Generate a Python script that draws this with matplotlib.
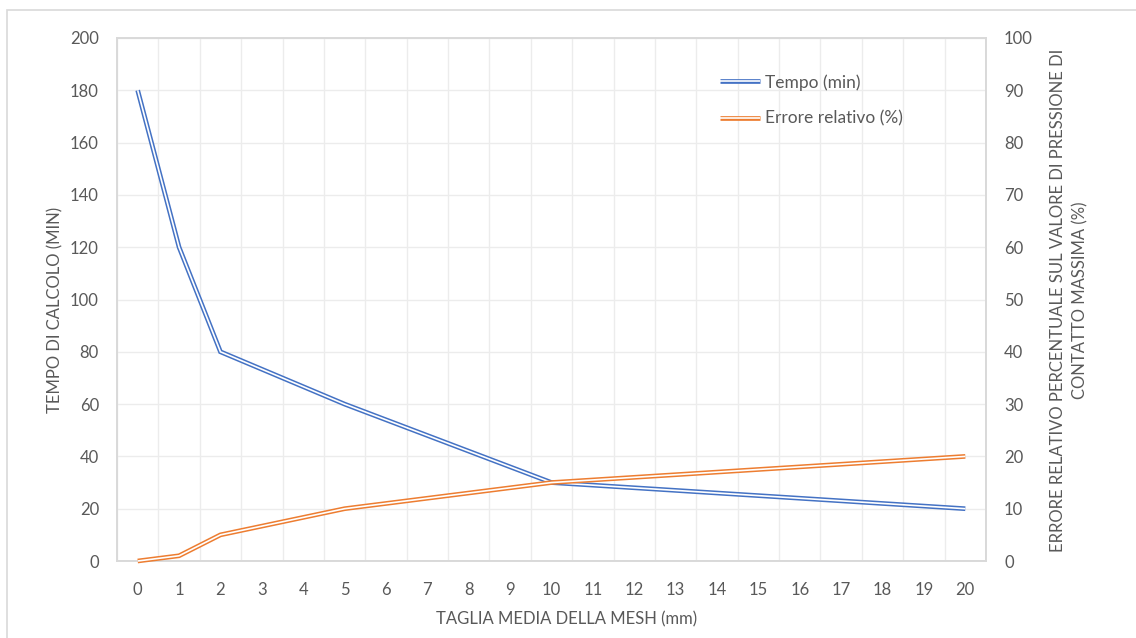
import matplotlib
matplotlib.use("Agg")
import matplotlib.pyplot as plt
from matplotlib.lines import Line2D
from matplotlib.patches import Rectangle
import numpy as np

# Data
mesh_size = [0, 1, 2, 5, 10, 20]
tempo_min = [180, 120, 80, 60, 30, 20]
errore_pct = [0, 1, 5, 10, 15, 20]
x_ticks = list(range(0, 21))
left_ticks = list(range(0, 201, 20))
right_ticks = list(range(0, 101, 10))

BLUE = "#4472C4"
ORANGE = "#ED7D31"
TXT = "#595959"
GRID = "#ECECEC"
SPINE = "#D9D9D9"

plt.rcParams['font.family'] = ['Lato', 'DejaVu Sans']
FS = 12
LFS = 12.5

fig = plt.figure(figsize=(11.36, 6.38), dpi=100)
ax = fig.add_axes([117/1136, 1-561/638, (986-117)/1136, (561-38)/638])
ax2 = ax.twinx()

# outer chart border (partly cropped)
fig.patches.append(Rectangle((7/1136, -0.1), 1.2, 1.1 - 10/638,
                             transform=fig.transFigure, fill=False,
                             edgecolor=SPINE, linewidth=1.2))

CW, WW = 3.4, 1.2

def double_line(a, x, y, color, z):
    a.plot(x, y, color=color, lw=CW, solid_capstyle='butt', solid_joinstyle='miter',
           zorder=z, clip_on=False)
    a.plot(x, y, color='white', lw=WW, solid_capstyle='butt', solid_joinstyle='miter',
           zorder=z + 0.1, clip_on=False)

double_line(ax, mesh_size, tempo_min, BLUE, 3)
double_line(ax2, mesh_size, errore_pct, ORANGE, 3)

ax.set_xlim(-0.5, 20.5)
ax.set_ylim(0, 200)
ax2.set_ylim(0, 100)
ax.set_xticks(x_ticks)
ax.set_xticklabels([str(t) for t in x_ticks])
ax.set_yticks(left_ticks)
ax2.set_yticks(right_ticks)

# gridlines: horizontal at left ticks, vertical between categories
ax.set_xticks(np.arange(-0.5, 20.6, 1.0), minor=True)
ax.grid(True, which='major', axis='y', color=GRID, lw=1.0, zorder=0)
ax.grid(True, which='minor', axis='x', color=GRID, lw=1.0, zorder=0)
ax.set_axisbelow(True)

ax.tick_params(axis='both', which='both', length=0, labelsize=FS, labelcolor=TXT)
ax.tick_params(axis='x', pad=15)
ax.tick_params(axis='y', pad=13)
ax2.tick_params(axis='y', length=0, labelsize=FS, labelcolor=TXT, pad=13)

for a in (ax, ax2):
    for s in a.spines.values():
        s.set_color(SPINE)
        s.set_linewidth(1.2)

ax.set_xlabel("TAGLIA MEDIA DELLA MESH (mm)", fontsize=FS, color=TXT)
ax.xaxis.set_label_coords((567-117)/869, -(611-561)/523)
ax.set_ylabel("TEMPO DI CALCOLO (MIN)", fontsize=FS, color=TXT)
ax.yaxis.set_label_coords(-(117-63)/869, (561-310)/523)
ax2.set_ylabel("ERRORE RELATIVO PERCENTUALE SUL VALORE DI PRESSIONE DI\nCONTATTO MASSIMA (%)",
               fontsize=FS, color=TXT, linespacing=1.45)
ax2.yaxis.set_label_coords(1 + (1050-986)/869, (561-300)/523)

h1 = (Line2D([], [], color=BLUE, lw=CW, solid_capstyle='butt'),
      Line2D([], [], color='white', lw=WW, solid_capstyle='butt'))
h2 = (Line2D([], [], color=ORANGE, lw=CW, solid_capstyle='butt'),
      Line2D([], [], color='white', lw=WW, solid_capstyle='butt'))
leg = fig.legend([h1, h2], ["Tempo (min)", "Errore relativo (%)"],
                 loc='upper left', bbox_to_anchor=(720/1136, 1-74/638),
                 frameon=False, fontsize=LFS, handlelength=2.3, handletextpad=0.3,
                 labelspacing=1.15, borderaxespad=0, borderpad=0)
for t in leg.get_texts():
    t.set_color(TXT)

fig.savefig("out.png", dpi=100, facecolor='white')
